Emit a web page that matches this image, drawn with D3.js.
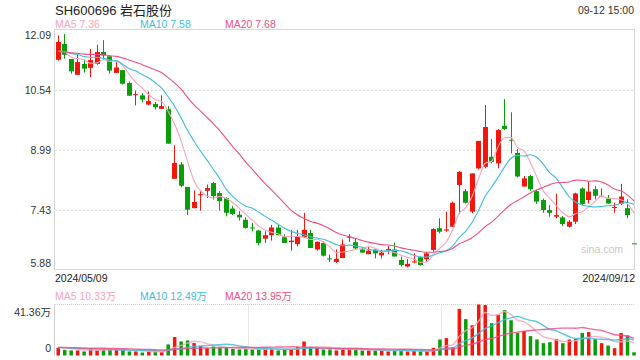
<!DOCTYPE html>
<html><head><meta charset="utf-8">
<script src="https://cdn.jsdelivr.net/npm/d3@7/dist/d3.min.js"></script>
<style>body{margin:0;background:#fff;}svg{display:block;font-family:"Liberation Sans","Noto Sans CJK SC",Arial,sans-serif;}</style>
</head><body><svg id="c" width="640" height="360"></svg>
<script>
const title = "SH600696 岩石股份";
const timeLabel = "09-12 15:00";
const dates = ["2024/05/09","2024/05/10","2024/05/13","2024/05/14","2024/05/15","2024/05/16","2024/05/17","2024/05/20","2024/05/21","2024/05/22","2024/05/23","2024/05/24","2024/05/27","2024/05/28","2024/05/29","2024/05/30","2024/05/31",
"2024/06/03","2024/06/04","2024/06/05","2024/06/06","2024/06/07","2024/06/11","2024/06/12","2024/06/13","2024/06/14","2024/06/17","2024/06/18","2024/06/19","2024/06/20","2024/06/21","2024/06/24","2024/06/25","2024/06/26","2024/06/27","2024/06/28",
"2024/07/01","2024/07/02","2024/07/03","2024/07/04","2024/07/05","2024/07/08","2024/07/09","2024/07/10","2024/07/11","2024/07/12","2024/07/15","2024/07/16","2024/07/17","2024/07/18","2024/07/19","2024/07/22","2024/07/23","2024/07/24","2024/07/25","2024/07/26","2024/07/29","2024/07/30","2024/07/31",
"2024/08/01","2024/08/02","2024/08/05","2024/08/06","2024/08/07","2024/08/08","2024/08/09","2024/08/12","2024/08/13","2024/08/14","2024/08/15","2024/08/16","2024/08/19","2024/08/20","2024/08/21","2024/08/22","2024/08/23","2024/08/26","2024/08/27","2024/08/28","2024/08/29","2024/08/30",
"2024/09/02","2024/09/03","2024/09/04","2024/09/05","2024/09/06","2024/09/09","2024/09/10","2024/09/11","2024/09/12"];
const open  = [11.32,11.73,11.34,10.93,11.21,11.11,11.21,11.52,11.41,10.98,11.05,10.72,10.41,10.40,10.16,10.18,10.05,10.04,8.24,8.61,8.03,7.48,7.82,7.93,8.13,7.87,7.74,7.47,7.31,7.18,6.98,6.90,6.69,6.78,6.98,6.73,6.60,6.55,6.73,6.84,6.41,6.58,6.18,6.09,6.19,6.72,6.60,6.41,6.29,6.41,6.26,6.41,6.41,6.14,5.97,6.08,6.21,6.16,6.40,6.96,6.90,7.00,8.08,7.92,7.39,8.51,8.55,8.81,8.64,9.61,9.25,8.91,8.04,8.31,7.92,7.69,7.43,7.26,7.24,7.00,7.13,7.99,7.69,7.97,7.79,7.73,7.49,7.60,7.48,6.57];
const high  = [11.95,11.99,11.34,11.49,11.32,11.60,11.71,11.83,11.41,11.28,11.06,10.76,10.52,10.46,10.50,10.23,10.40,10.12,9.11,8.67,8.03,7.94,7.94,8.09,8.16,7.92,7.76,7.53,7.40,7.24,7.10,6.92,6.88,7.05,7.05,6.80,6.92,6.92,7.36,6.92,6.62,6.62,6.28,6.41,6.67,6.81,6.70,6.48,6.48,6.41,6.40,6.50,6.59,6.23,6.16,6.31,6.23,6.35,6.96,7.22,7.39,7.65,8.44,7.97,8.38,9.22,10.15,9.27,9.53,10.30,9.96,9.01,8.31,8.34,7.95,7.73,7.56,7.85,7.28,7.17,7.88,8.02,8.17,8.05,7.99,7.82,7.62,8.11,7.71,6.57];
const low   = [11.30,11.35,10.96,10.93,10.99,10.87,11.19,11.32,10.96,10.98,10.68,10.39,10.14,10.22,10.14,10.03,10.05,9.15,8.24,8.02,7.30,7.48,7.42,7.74,7.70,7.42,7.27,7.30,7.16,6.95,6.88,6.52,6.58,6.64,6.78,6.58,6.38,6.49,6.71,6.45,6.38,6.23,6.09,6.06,6.19,6.61,6.41,6.33,6.29,6.18,6.18,6.29,6.23,5.97,5.95,6.05,5.99,6.10,6.35,6.83,6.87,7.00,7.33,7.60,7.35,8.48,8.51,8.64,8.51,9.50,8.90,8.28,8.04,7.93,7.59,7.36,7.26,7.22,7.02,6.98,7.07,7.56,7.60,7.71,7.76,7.59,7.36,7.56,7.22,6.57];
const close = [11.78,11.45,11.02,11.26,11.09,11.31,11.52,11.43,11.04,11.12,10.70,10.39,10.43,10.29,10.25,10.09,10.12,9.15,8.65,8.06,7.44,7.64,7.84,8.00,7.79,7.66,7.36,7.33,7.24,6.97,6.96,6.58,6.78,6.98,6.78,6.58,6.64,6.75,6.92,6.45,6.61,6.25,6.16,6.17,6.54,6.74,6.44,6.33,6.38,6.31,6.33,6.42,6.23,6.01,6.04,6.10,6.01,6.31,6.94,6.87,6.93,7.62,8.42,7.62,8.38,9.22,9.58,8.68,9.50,9.53,9.23,8.30,8.25,7.97,7.65,7.43,7.36,7.30,7.07,7.13,7.86,7.59,7.91,7.80,7.80,7.60,7.51,7.78,7.30,6.57];
const volume = [6.3,4.6,4.1,4.1,3.3,6.0,4.1,4.9,4.6,4.9,4.6,3.3,3.3,2.4,3.5,3.0,2.7,9.0,15.0,11.4,12.2,10.1,7.6,6.0,7.3,6.3,6.0,5.4,4.9,5.2,4.9,5.2,5.4,5.2,4.1,5.2,5.2,6.8,11.4,6.0,6.0,4.9,4.9,4.1,5.2,5.2,4.9,4.1,4.1,4.1,4.1,3.3,4.1,4.1,3.3,4.1,3.3,3.3,6.2,13.0,14.1,6.7,37.8,29.5,24.5,41.36,40.9,26.2,33.1,36.8,28.6,18.2,19.9,15.7,13.0,10.0,10.8,13.5,10.0,13.0,13.6,18.2,19.0,13.3,10.0,8.1,5.9,18.2,16.3,2.6];
// closes / volumes of the 19 sessions before the first visible one (for the moving averages)
const prevClose  = [11.50,11.60,11.45,11.55,11.40,11.50,11.65,11.55,11.45,11.60,11.50,11.45,11.55,11.60,11.50,11.55,11.70,11.45,11.24];
const prevVolume = [7.2,6.5,5.8,6.9,7.5,6.2,5.9,6.8,7.1,6.4,6.0,7.3,6.6,5.7,6.9,7.0,6.3,6.1,6.8];
const priceTicks = [12.09,10.54,8.99,7.43,5.88];
const volumeTicks = [41.36,0];
const volumeTickLabels = ["41.36万","0"];
const maPeriods = [5,10,20];
const maLabels = ["MA5 7.36","MA10 7.58","MA20 7.68"];
const volMaLabels = ["MA5 10.33万","MA10 12.49万","MA20 13.95万"];
const watermark = "sina.com";

const colors = {up:"#f2160b", down:"#0a9d0a", ma:["#f7a4bd","#3fbde0","#ee4f86"], text:"#333", border:"#d6d6d6", grid:"#dedede"};
const svg = d3.select("#c");
const L = 55, R = 634, PT = 30, PB = 270, VT = 304.5, VB = 355.5;

const x = d3.scaleBand().domain(d3.range(dates.length)).range([L, L + (R - L) * 90 / 89.5]).padding(0);
const cx = i => x(i) + x.bandwidth() / 2;
const y = d3.scaleLinear().domain([5.88, 12.09]).range([PB, PT]);
const yv = d3.scaleLinear().domain([0, 41.36]).range([VB, VT]);

function movingAvg(prev, vals, n) {
  const all = prev.concat(vals), off = prev.length;
  return vals.map((_, i) => d3.mean(all.slice(i + off - n + 1, i + off + 1)));
}
const isUp = i => close[i] > open[i] || (close[i] === open[i] && close[i] >= (i ? close[i-1] : prevClose[prevClose.length-1]));

// title texts
svg.append("text").attr("x", 55).attr("y", 15).attr("font-size", 13).attr("fill", "#222").text(title);
svg.append("text").attr("x", 634).attr("y", 14).attr("text-anchor", "end").attr("font-size", 10.5).attr("fill", colors.text).text(timeLabel);
const legX = [55, 140, 225];
maLabels.forEach((t, k) => svg.append("text").attr("x", legX[k]).attr("y", 27.5).attr("font-size", 10.5).attr("fill", colors.ma[k]).text(t));
volMaLabels.forEach((t, k) => svg.append("text").attr("x", legX[k]).attr("y", 299.5).attr("font-size", 10.5).attr("fill", colors.ma[k]).text(t));

// price grid
svg.append("g").selectAll("line").data(priceTicks.slice(1, -1)).join("line")
  .attr("x1", L).attr("x2", R).attr("y1", d => Math.round(y(d)) + 0.5).attr("y2", d => Math.round(y(d)) + 0.5)
  .attr("stroke", colors.grid).attr("stroke-dasharray", "2,2");
svg.append("rect").attr("x", L - 0.5).attr("y", PT - 0.5).attr("width", R - L + 1).attr("height", PB - PT)
  .attr("fill", "none").attr("stroke", colors.border);
// price tick labels
svg.append("g").selectAll("text").data(priceTicks).join("text")
  .attr("x", 51).attr("text-anchor", "end").attr("font-size", 10.5).attr("fill", colors.text)
  .attr("y", (d, k) => k === 0 ? y(d) + 8.5 : (k === priceTicks.length - 1 ? y(d) - 3 : y(d) + 3.8))
  .text(d => d.toFixed(2));
svg.append("text").attr("x", 55).attr("y", 281.5).attr("font-size", 10.5).attr("fill", "#222").text(dates[0]);
svg.append("text").attr("x", 635).attr("y", 281.5).attr("text-anchor", "end").attr("font-size", 10.5).attr("fill", "#222").text(dates[dates.length - 1]);
svg.append("text").attr("x", 623).attr("y", 252.5).attr("text-anchor", "end").attr("font-size", 10.5).attr("fill", "#c8c8c8").text(watermark);

// candles
const cg = svg.append("g");
dates.forEach((d, i) => {
  const col = isUp(i) ? colors.up : colors.down;
  const bx = Math.round(cx(i) - 2.5);
  const wx = bx + 2.5;
  cg.append("line").attr("x1", wx).attr("x2", wx).attr("y1", y(high[i])).attr("y2", y(low[i])).attr("stroke", col);
  const top = y(Math.max(open[i], close[i])), bot = y(Math.min(open[i], close[i]));
  cg.append("rect").attr("x", bx).attr("width", 5).attr("y", top).attr("height", Math.max(1, bot - top)).attr("fill", col);
});
// price MAs
maPeriods.forEach((n, k) => {
  const m = movingAvg(prevClose, close, n);
  svg.append("path").datum(m).attr("fill", "none").attr("stroke", colors.ma[k]).attr("stroke-width", 1.1)
    .attr("d", d3.line().x((_, i) => cx(i)).y(v => y(v)).curve(d3.curveMonotoneX));
});

// volume pane
svg.append("line").attr("x1", L).attr("x2", R).attr("y1", VT).attr("y2", VT).attr("stroke", "#cfcfcf").attr("stroke-dasharray", "1,1");
svg.append("line").attr("x1", L - 0.5).attr("x2", L - 0.5).attr("y1", VT).attr("y2", VB).attr("stroke", "#cfcfcf");
[1, 2].forEach(k => {
  const vx = Math.round(L + (R - L) * k / 3) + 0.5;
  svg.append("line").attr("x1", vx).attr("x2", vx).attr("y1", VT).attr("y2", VB).attr("stroke", "#cfcfcf").attr("stroke-dasharray", "1,1");
});
svg.append("g").selectAll("text").data(volumeTicks).join("text")
  .attr("x", 51).attr("text-anchor", "end").attr("font-size", 10.5).attr("fill", colors.text)
  .attr("y", (d, k) => k === 0 ? yv(d) + 11.5 : yv(d) - 3.5).text((d, k) => volumeTickLabels[k]);
svg.append("g").selectAll("rect").data(volume).join("rect")
  .attr("x", (v, i) => cx(i) - 1.75).attr("width", 3.5)
  .attr("y", v => yv(v)).attr("height", v => VB - yv(v))
  .attr("fill", (v, i) => isUp(i) ? colors.up : colors.down);
maPeriods.forEach((n, k) => {
  const m = movingAvg(prevVolume, volume, n);
  svg.append("path").datum(m).attr("fill", "none").attr("stroke", colors.ma[k]).attr("stroke-width", 1.4).attr("opacity", 0.85)
    .attr("d", d3.line().x((_, i) => cx(i)).y(v => yv(v)).curve(d3.curveMonotoneX));
});
</script></body></html>
